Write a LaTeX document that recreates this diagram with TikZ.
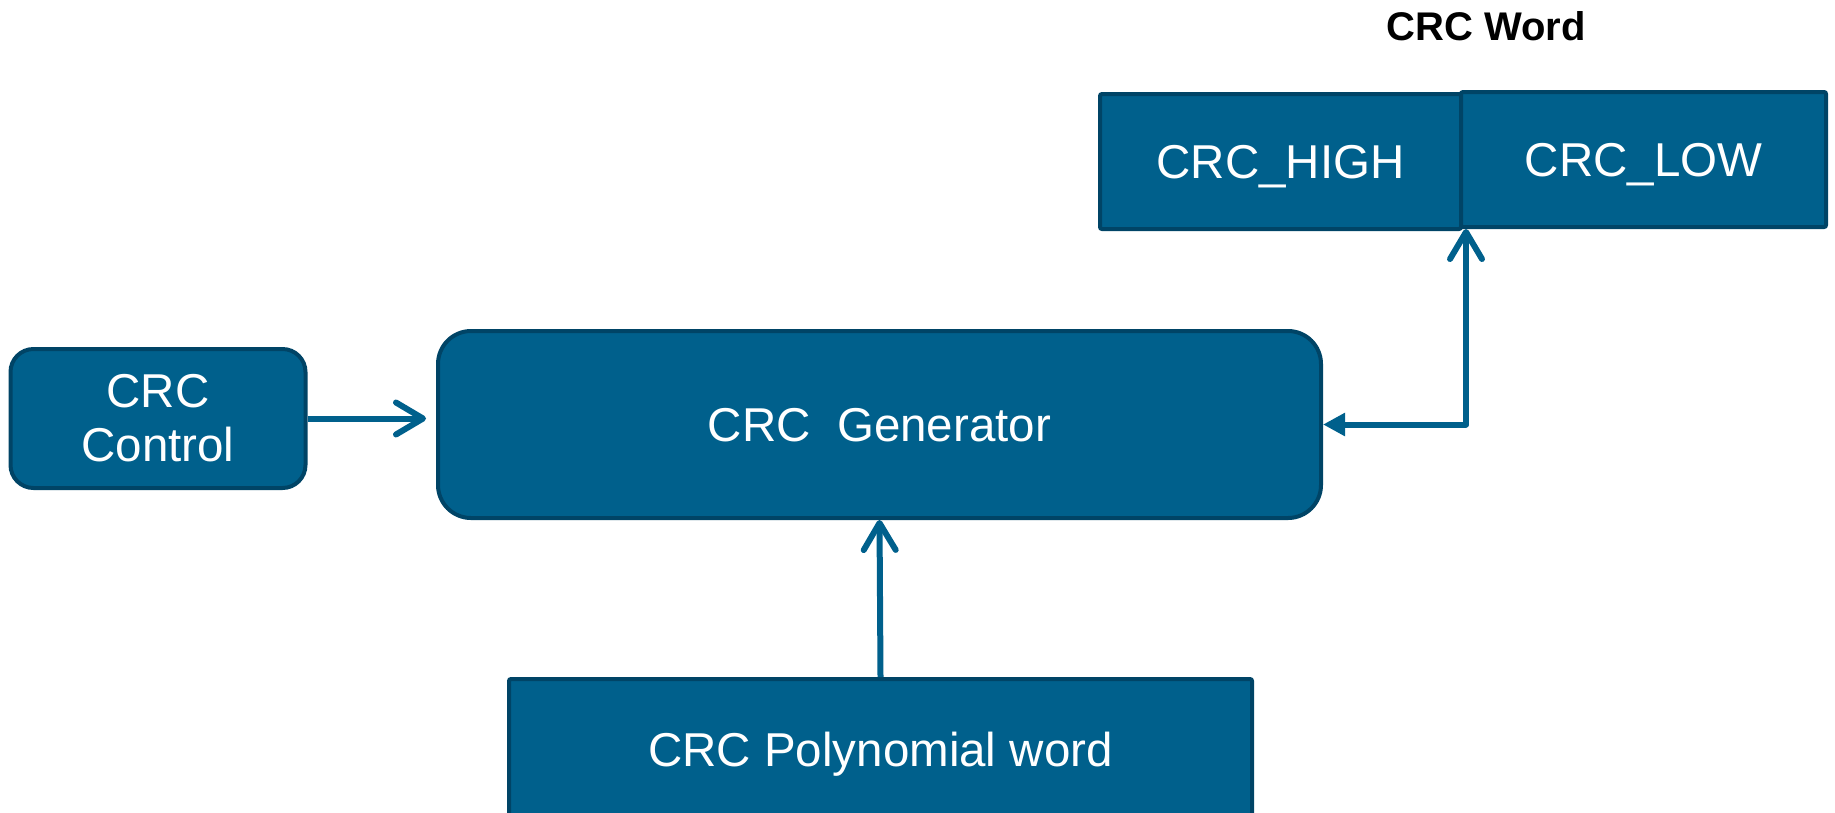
\documentclass[tikz,border=0pt]{standalone}
\usepackage{fontspec}
\setmainfont{Liberation Sans}
\usetikzlibrary{arrows.meta}
\definecolor{crcblue}{RGB}{0,96,140}
\definecolor{crcedge}{RGB}{0,68,102}
\tikzset{
	block/.style={draw=crcedge, fill=crcblue, line width=4pt, text=white, inner sep=0pt,
		font=\fontsize{47.5}{54}\selectfont, align=center},
	oneline/.style={text height=34pt, text depth=0pt},
	softblock/.style={block, rounded corners=30pt},
	reg/.style={block, oneline, rounded corners=2pt},
	heading/.style={font=\fontsize{40}{48}\selectfont\bfseries},
	link/.style={draw=crcblue, line width=6pt, line join=round},
	barb/.tip={Straight Barb[length=27pt,width=32pt,round]},
	wedge/.tip={Triangle[length=22pt,width=22pt]},
}
\begin{document}
\begin{tikzpicture}[x=1pt,y=-1pt]
	\clip (0,0) rectangle (1835,812);
	\node[heading] (title) at (1486,26) {CRC Word};
	\node[softblock, minimum width=295pt, minimum height=139pt, rounded corners=23pt] (ctrl) at (158,418.5) {CRC\\Control};
	\node[softblock, oneline, minimum width=883pt, minimum height=187pt, rounded corners=33pt] (gen) at (879.5,424.5) {CRC~~Generator};
	\node[reg, minimum width=361pt, minimum height=135pt] (high) at (1280.5,161.5) {CRC\_HIGH};
	\node[reg, minimum width=365pt, minimum height=135pt] (low) at (1643.5,159.5) {CRC\_LOW};
	\node[reg, minimum width=743pt, minimum height=140pt] (poly) at (880.5,749) {CRC Polynomial word};
	\coordinate (wordin) at (1466,229);
	\draw[link, -barb, shorten >=10pt] (ctrl.east) -- (ctrl.east -| gen.west);
	\draw[link, -barb] (poly.north) -- (gen.south);
	\draw[link, wedge-barb] (gen.east) -| (wordin);
\end{tikzpicture}
\end{document}
